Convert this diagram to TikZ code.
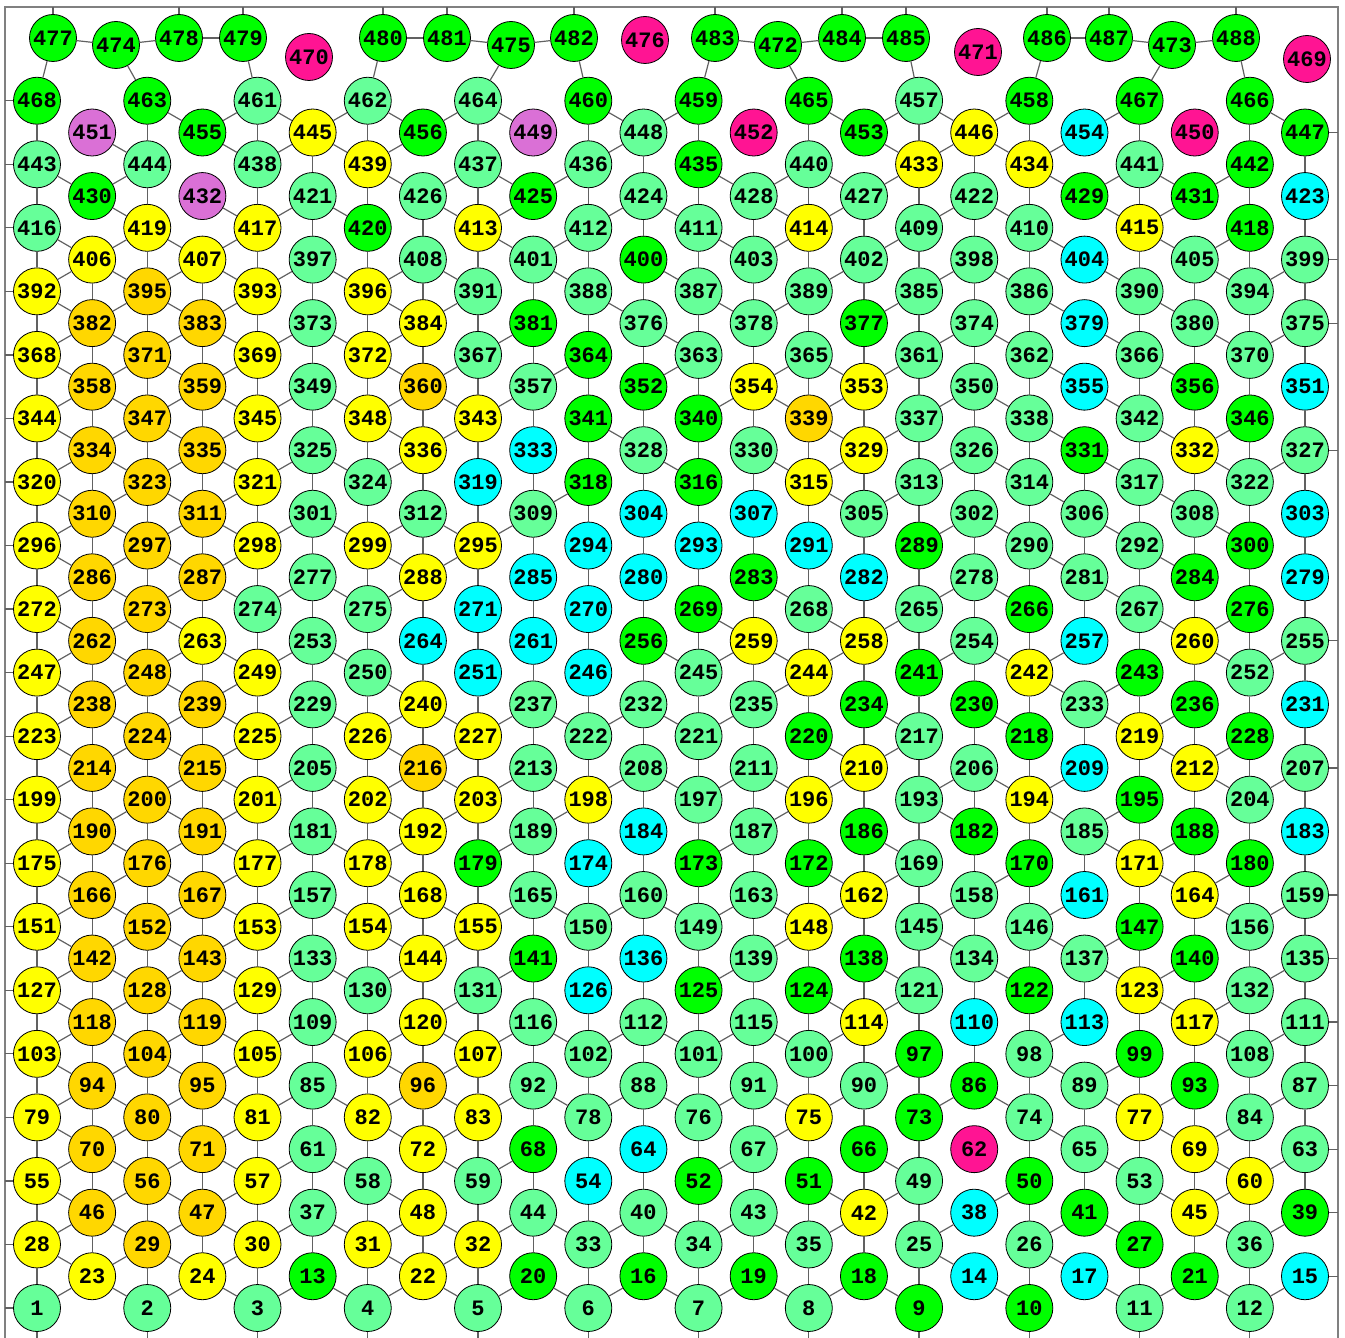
\documentclass[tikz,border=0pt]{standalone}
\usepackage{fontspec}
\setmonofont{Liberation Mono}
\usepackage{xcolor}
\definecolor{deg0}{HTML}{FF1493}
\definecolor{deg1}{HTML}{DA70D6}
\definecolor{deg2}{HTML}{00FFFF}
\definecolor{deg3}{HTML}{00FF00}
\definecolor{deg4}{HTML}{66FF99}
\definecolor{deg5}{HTML}{FFFF00}
\definecolor{deg6}{HTML}{FFD700}

\begin{document}
\begin{tikzpicture}[
      x=0.5pt, y=-0.5pt,
      site/.style={circle, draw=black, line width=0.4pt, minimum size=23.5pt, inner sep=0pt,
                   font=\ttfamily\bfseries\fontsize{11}{11}\selectfont},
      d0/.style={site, fill=deg0},
      d1/.style={site, fill=deg1},
      d2/.style={site, fill=deg2},
      d3/.style={site, fill=deg3},
      d4/.style={site, fill=deg4},
      d5/.style={site, fill=deg5},
      d6/.style={site, fill=deg6},
      link/.style={draw=black!62, line width=0.6pt},
      rim/.style={draw=black!50, line width=0.75pt}
    ]
    \useasboundingbox (0,0) rectangle (1345,1338);

    % frame of the periodic cell (open at the bottom)
    \draw[rim] (5,1338) -- (5,7) -- (1338,7) -- (1338,1338);
    \coordinate (frameN) at (0,7);
    \coordinate (frameS) at (0,1338);
    \coordinate (frameW) at (5,0);
    \coordinate (frameE) at (1338,0);

    % lattice sites, one column at a time, bottom to top
    \foreach \n/\s [count=\i from 0] in {1/d4,28/d5,55/d5,79/d5,103/d5,127/d5,151/d5,175/d5,199/d5,223/d5,247/d5,272/d5,296/d5,320/d5,344/d5,368/d5,392/d5,416/d4,443/d4,468/d3}
      \node[\s] (n\n) at (37,{1308-63.54*\i}) {\n};
    \foreach \n/\s [count=\i from 0] in {23/d5,46/d6,70/d6,94/d6,118/d6,142/d6,166/d6,190/d6,214/d6,238/d6,262/d6,286/d6,310/d6,334/d6,358/d6,382/d6,406/d5,430/d3,451/d1}
      \node[\s] (n\n) at (92.13,{1276.23-63.54*\i}) {\n};
    \foreach \n/\s [count=\i from 0] in {2/d4,29/d6,56/d6,80/d6,104/d6,128/d6,152/d6,176/d6,200/d6,224/d6,248/d6,273/d6,297/d6,323/d6,347/d6,371/d6,395/d6,419/d5,444/d4,463/d3}
      \node[\s] (n\n) at (147.26,{1308-63.54*\i}) {\n};
    \foreach \n/\s [count=\i from 0] in {24/d5,47/d6,71/d6,95/d6,119/d6,143/d6,167/d6,191/d6,215/d6,239/d6,263/d5,287/d6,311/d6,335/d6,359/d6,383/d6,407/d5,432/d1,455/d3}
      \node[\s] (n\n) at (202.39,{1276.23-63.54*\i}) {\n};
    \foreach \n/\s [count=\i from 0] in {3/d4,30/d5,57/d5,81/d5,105/d5,129/d5,153/d5,177/d5,201/d5,225/d5,249/d5,274/d4,298/d5,321/d5,345/d5,369/d5,393/d5,417/d5,438/d4,461/d4}
      \node[\s] (n\n) at (257.52,{1308-63.54*\i}) {\n};
    \foreach \n/\s [count=\i from 0] in {13/d3,37/d4,61/d4,85/d4,109/d4,133/d4,157/d4,181/d4,205/d4,229/d4,253/d4,277/d4,301/d4,325/d4,349/d4,373/d4,397/d4,421/d4,445/d5}
      \node[\s] (n\n) at (312.65,{1276.23-63.54*\i}) {\n};
    \foreach \n/\s [count=\i from 0] in {4/d4,31/d5,58/d4,82/d5,106/d5,130/d4,154/d5,178/d5,202/d5,226/d5,250/d4,275/d4,299/d5,324/d4,348/d5,372/d5,396/d5,420/d3,439/d5,462/d4}
      \node[\s] (n\n) at (367.78,{1308-63.54*\i}) {\n};
    \foreach \n/\s [count=\i from 0] in {22/d5,48/d5,72/d5,96/d6,120/d5,144/d5,168/d5,192/d5,216/d6,240/d5,264/d2,288/d5,312/d4,336/d5,360/d6,384/d5,408/d4,426/d4,456/d3}
      \node[\s] (n\n) at (422.91,{1276.23-63.54*\i}) {\n};
    \foreach \n/\s [count=\i from 0] in {5/d4,32/d5,59/d4,83/d5,107/d5,131/d4,155/d5,179/d3,203/d5,227/d5,251/d2,271/d2,295/d5,319/d2,343/d5,367/d4,391/d4,413/d5,437/d4,464/d4}
      \node[\s] (n\n) at (478.04,{1308-63.54*\i}) {\n};
    \foreach \n/\s [count=\i from 0] in {20/d3,44/d4,68/d3,92/d4,116/d4,141/d3,165/d4,189/d4,213/d4,237/d4,261/d2,285/d2,309/d4,333/d2,357/d4,381/d3,401/d4,425/d3,449/d1}
      \node[\s] (n\n) at (533.17,{1276.23-63.54*\i}) {\n};
    \foreach \n/\s [count=\i from 0] in {6/d4,33/d4,54/d2,78/d4,102/d4,126/d2,150/d4,174/d2,198/d5,222/d4,246/d2,270/d2,294/d2,318/d3,341/d3,364/d3,388/d4,412/d4,436/d4,460/d3}
      \node[\s] (n\n) at (588.3,{1308-63.54*\i}) {\n};
    \foreach \n/\s [count=\i from 0] in {16/d3,40/d4,64/d2,88/d4,112/d4,136/d2,160/d4,184/d2,208/d4,232/d4,256/d3,280/d2,304/d2,328/d4,352/d3,376/d4,400/d3,424/d4,448/d4}
      \node[\s] (n\n) at (643.43,{1276.23-63.54*\i}) {\n};
    \foreach \n/\s [count=\i from 0] in {7/d4,34/d4,52/d3,76/d4,101/d4,125/d3,149/d4,173/d3,197/d4,221/d4,245/d4,269/d3,293/d2,316/d3,340/d3,363/d4,387/d4,411/d4,435/d3,459/d3}
      \node[\s] (n\n) at (698.56,{1308-63.54*\i}) {\n};
    \foreach \n/\s [count=\i from 0] in {19/d3,43/d4,67/d4,91/d4,115/d4,139/d4,163/d4,187/d4,211/d4,235/d4,259/d5,283/d3,307/d2,330/d4,354/d5,378/d4,403/d4,428/d4,452/d0}
      \node[\s] (n\n) at (753.69,{1276.23-63.54*\i}) {\n};
    \foreach \n/\s [count=\i from 0] in {8/d4,35/d4,51/d3,75/d5,100/d4,124/d3,148/d5,172/d3,196/d5,220/d3,244/d5,268/d4,291/d2,315/d5,339/d6,365/d4,389/d4,414/d5,440/d4,465/d3}
      \node[\s] (n\n) at (808.82,{1308-63.54*\i}) {\n};
    \foreach \n/\s [count=\i from 0] in {18/d3,42/d5,66/d3,90/d4,114/d5,138/d3,162/d5,186/d3,210/d5,234/d3,258/d5,282/d2,305/d4,329/d5,353/d5,377/d3,402/d4,427/d4,453/d3}
      \node[\s] (n\n) at (863.95,{1276.23-63.54*\i}) {\n};
    \foreach \n/\s [count=\i from 0] in {9/d3,25/d4,49/d4,73/d3,97/d3,121/d4,145/d4,169/d4,193/d4,217/d4,241/d3,265/d4,289/d3,313/d4,337/d4,361/d4,385/d4,409/d4,433/d5,457/d4}
      \node[\s] (n\n) at (919.08,{1308-63.54*\i}) {\n};
    \foreach \n/\s [count=\i from 0] in {14/d2,38/d2,62/d0,86/d3,110/d2,134/d4,158/d4,182/d3,206/d4,230/d3,254/d4,278/d4,302/d4,326/d4,350/d4,374/d4,398/d4,422/d4,446/d5}
      \node[\s] (n\n) at (974.21,{1276.23-63.54*\i}) {\n};
    \foreach \n/\s [count=\i from 0] in {10/d3,26/d4,50/d3,74/d4,98/d4,122/d3,146/d4,170/d3,194/d5,218/d3,242/d5,266/d3,290/d4,314/d4,338/d4,362/d4,386/d4,410/d4,434/d5,458/d3}
      \node[\s] (n\n) at (1029.34,{1308-63.54*\i}) {\n};
    \foreach \n/\s [count=\i from 0] in {17/d2,41/d3,65/d4,89/d4,113/d2,137/d4,161/d2,185/d4,209/d2,233/d4,257/d2,281/d4,306/d4,331/d3,355/d2,379/d2,404/d2,429/d3,454/d2}
      \node[\s] (n\n) at (1084.47,{1276.23-63.54*\i}) {\n};
    \foreach \n/\s [count=\i from 0] in {11/d4,27/d3,53/d4,77/d5,99/d3,123/d5,147/d3,171/d5,195/d3,219/d5,243/d3,267/d4,292/d4,317/d4,342/d4,366/d4,390/d4,415/d5,441/d4,467/d3}
      \node[\s] (n\n) at (1139.6,{1308-63.54*\i}) {\n};
    \foreach \n/\s [count=\i from 0] in {21/d3,45/d5,69/d5,93/d3,117/d5,140/d3,164/d5,188/d3,212/d5,236/d3,260/d5,284/d3,308/d4,332/d5,356/d3,380/d4,405/d4,431/d3,450/d0}
      \node[\s] (n\n) at (1194.73,{1276.23-63.54*\i}) {\n};
    \foreach \n/\s [count=\i from 0] in {12/d4,36/d4,60/d5,84/d4,108/d4,132/d4,156/d4,180/d3,204/d4,228/d3,252/d4,276/d3,300/d3,322/d4,346/d3,370/d4,394/d4,418/d3,442/d3,466/d3}
      \node[\s] (n\n) at (1249.86,{1308-63.54*\i}) {\n};
    \foreach \n/\s [count=\i from 0] in {15/d2,39/d3,63/d4,87/d4,111/d4,135/d4,159/d4,183/d2,207/d4,231/d2,255/d4,279/d2,303/d2,327/d4,351/d2,375/d4,399/d4,423/d2,447/d3}
      \node[\s] (n\n) at (1304.99,{1276.23-63.54*\i}) {\n};

    % top row, off the lattice
    \foreach \n/\s/\x/\y in {477/d3/53/38,474/d3/116/45,478/d3/179/38,479/d3/243/38,470/d0/309/57,
        480/d3/383/38,481/d3/447/38,475/d3/511/45,482/d3/574/38,476/d0/645/40,
        483/d3/715/38,472/d3/778/45,484/d3/842/38,485/d3/906/38,471/d0/978/52,
        486/d3/1047/38,487/d3/1109/38,473/d3/1172/45,488/d3/1236/38,469/d0/1307/59}
      \node[\s] (n\n) at (\x,\y) {\n};

    % bonds along each column
    \foreach \a/\b in {1/28,28/55,55/79,79/103,103/127,127/151,151/175,175/199,199/223,223/247,247/272,272/296,296/320,320/344,344/368,368/392,392/416,416/443,443/468,
        23/46,46/70,70/94,94/118,118/142,142/166,166/190,190/214,214/238,238/262,262/286,286/310,310/334,334/358,358/382,382/406,
        2/29,29/56,56/80,80/104,104/128,128/152,152/176,176/200,200/224,224/248,248/273,273/297,297/323,323/347,347/371,371/395,395/419,419/444,444/463,
        24/47,47/71,71/95,95/119,119/143,143/167,167/191,191/215,215/239,239/263,263/287,287/311,311/335,335/359,359/383,383/407,
        3/30,30/57,57/81,81/105,105/129,129/153,153/177,177/201,201/225,225/249,249/274,274/298,298/321,321/345,345/369,369/393,393/417,417/438,438/461,
        13/37,37/61,61/85,85/109,109/133,133/157,157/181,181/205,205/229,229/253,253/277,277/301,301/325,325/349,349/373,373/397,397/421,421/445,
        4/31,31/58,58/82,82/106,106/130,130/154,154/178,178/202,202/226,226/250,250/275,275/299,299/324,324/348,348/372,372/396,396/420,420/439,439/462,
        22/48,48/72,72/96,96/120,120/144,144/168,168/192,192/216,216/240,240/264,264/288,288/312,312/336,336/360,360/384,384/408,408/426,
        5/32,32/59,59/83,83/107,107/131,131/155,155/179,179/203,203/227,227/251,251/271,271/295,295/319,319/343,343/367,367/391,391/413,413/437,437/464,
        20/44,44/68,68/92,92/116,116/141,141/165,165/189,189/213,213/237,237/261,261/285,285/309,309/333,333/357,357/381,381/401,
        6/33,33/54,54/78,78/102,102/126,126/150,150/174,174/198,198/222,222/246,246/270,270/294,294/318,318/341,341/364,364/388,388/412,412/436,436/460,
        16/40,40/64,64/88,88/112,112/136,136/160,160/184,184/208,208/232,232/256,256/280,280/304,304/328,328/352,352/376,376/400,400/424,424/448,
        7/34,34/52,52/76,76/101,101/125,125/149,149/173,173/197,197/221,221/245,245/269,269/293,293/316,316/340,340/363,363/387,387/411,411/435,435/459,
        19/43,43/67,67/91,91/115,115/139,139/163,163/187,187/211,211/235,235/259,259/283,283/307,307/330,330/354,354/378,378/403,403/428,
        8/35,35/51,51/75,75/100,100/124,124/148,148/172,172/196,196/220,220/244,244/268,268/291,291/315,315/339,339/365,365/389,389/414,414/440,440/465,
        18/42,42/66,66/90,90/114,114/138,138/162,162/186,186/210,210/234,234/258,258/282,282/305,305/329,329/353,353/377,377/402,402/427,
        9/25,25/49,49/73,73/97,97/121,121/145,145/169,169/193,193/217,217/241,241/265,265/289,289/313,313/337,337/361,361/385,385/409,409/433,433/457,
        86/110,110/134,134/158,158/182,182/206,206/230,230/254,254/278,278/302,302/326,326/350,350/374,374/398,398/422,422/446,
        10/26,26/50,50/74,74/98,98/122,122/146,146/170,170/194,194/218,218/242,242/266,266/290,290/314,314/338,338/362,362/386,386/410,410/434,434/458,
        41/65,65/89,113/137,161/185,209/233,257/281,281/306,306/331,
        11/27,27/53,53/77,77/99,99/123,123/147,147/171,171/195,195/219,219/243,243/267,267/292,292/317,317/342,342/366,366/390,390/415,415/441,441/467,
        21/45,45/69,69/93,93/117,117/140,140/164,164/188,188/212,212/236,236/260,260/284,284/308,308/332,332/356,356/380,380/405,
        12/36,36/60,60/84,84/108,108/132,132/156,156/180,180/204,204/228,228/252,252/276,276/300,300/322,322/346,346/370,370/394,394/418,418/442,442/466,
        39/63,63/87,87/111,111/135,135/159,159/183,183/207,207/231,231/255,255/279,279/303,303/327,327/351,351/375,375/399,399/423,423/447}
      \draw[link] (n\a) -- (n\b);

    % bonds between neighbouring columns
    \foreach \a/\b in {1/23,23/28,28/46,46/55,55/70,70/79,79/94,94/103,103/118,118/127,127/142,142/151,151/166,166/175,175/190,190/199,199/214,214/223,223/238,238/247,247/262,262/272,272/286,286/296,296/310,310/320,320/334,334/344,344/358,358/368,368/382,382/392,392/406,406/416,430/443,
        2/23,23/29,29/46,46/56,56/70,70/80,80/94,94/104,104/118,118/128,128/142,142/152,152/166,166/176,176/190,190/200,200/214,214/224,224/238,238/248,248/262,262/273,273/286,286/297,297/310,310/323,323/334,334/347,347/358,358/371,371/382,382/395,395/406,406/419,419/430,430/444,444/451,
        2/24,24/29,29/47,47/56,56/71,71/80,80/95,95/104,104/119,119/128,128/143,143/152,152/167,167/176,176/191,191/200,200/215,215/224,224/239,239/248,248/263,263/273,273/287,287/297,297/311,311/323,323/335,335/347,347/359,359/371,371/383,383/395,395/407,407/419,455/463,
        3/24,24/30,30/47,47/57,57/71,71/81,81/95,95/105,105/119,119/129,129/143,143/153,153/167,167/177,177/191,191/201,201/215,215/225,225/239,239/249,249/263,274/287,287/298,298/311,311/321,321/335,335/345,345/359,359/369,369/383,383/393,393/407,407/417,417/432,438/455,455/461,
        3/13,30/37,57/61,81/85,105/109,129/133,153/157,177/181,201/205,225/229,249/253,274/277,298/301,321/325,345/349,369/373,393/397,417/421,438/445,445/461,
        4/13,31/37,58/61,82/85,106/109,130/133,154/157,178/181,202/205,226/229,250/253,275/277,299/301,324/325,348/349,372/373,396/397,420/421,439/445,445/462,
        4/22,22/31,31/48,48/58,72/82,82/96,96/106,106/120,130/144,144/154,154/168,168/178,178/192,192/202,202/216,216/226,226/240,240/250,275/288,288/299,299/312,324/336,336/348,348/360,360/372,372/384,384/396,396/408,426/439,439/456,456/462,
        5/22,22/32,32/48,59/72,72/83,83/96,96/107,107/120,120/131,144/155,155/168,192/203,203/216,216/227,227/240,288/295,295/312,336/343,343/360,360/367,384/391,391/408,413/426,426/437,456/464,
        5/20,32/44,59/68,83/92,107/116,131/141,155/165,179/189,203/213,227/237,295/309,343/357,367/381,401/413,413/425,425/437,449/464,
        6/20,33/44,78/92,102/116,150/165,189/198,198/213,222/237,309/318,357/364,388/401,401/412,425/436,
        6/16,33/40,78/88,102/112,150/160,198/208,222/232,328/341,376/388,412/424,436/448,448/460,
        7/16,34/40,76/88,101/112,149/160,197/208,221/232,245/256,316/328,352/363,363/376,387/400,411/424,448/459,
        7/19,34/43,52/67,76/91,101/115,125/139,149/163,173/187,197/211,221/235,245/259,259/269,340/354,378/387,403/411,428/435,
        8/19,35/43,67/75,75/91,100/115,139/148,148/163,187/196,196/211,235/244,244/259,268/283,315/330,339/354,354/365,378/389,403/414,414/428,428/440,
        8/18,35/42,42/51,75/90,100/114,114/124,148/162,162/172,196/210,210/220,244/258,258/268,305/315,315/329,329/339,339/353,353/365,389/402,414/427,427/440,453/465,
        9/18,42/49,49/66,90/97,114/121,121/138,162/169,169/186,210/217,217/234,258/265,305/313,329/337,353/361,377/385,402/409,427/433,433/453,453/457,
        14/25,25/38,73/86,134/145,145/158,182/193,193/206,241/254,265/278,289/302,313/326,337/350,361/374,385/398,409/422,433/446,446/457,
        10/14,38/50,74/86,122/134,158/170,194/206,218/230,242/254,266/278,290/302,314/326,338/350,362/374,386/398,410/422,434/446,446/458,
        17/26,26/41,65/74,89/98,98/113,137/146,146/161,185/194,194/209,233/242,242/257,281/290,306/314,331/338,355/362,379/386,404/410,429/434,434/454,
        11/17,27/41,53/65,77/89,89/99,123/137,137/147,171/185,185/195,219/233,233/243,267/281,292/306,317/331,342/355,366/379,390/404,415/429,429/441,454/467,
        11/21,45/53,69/77,77/93,117/123,123/140,164/171,171/188,212/219,219/236,260/267,284/292,308/317,332/342,356/366,380/390,405/415,415/431,431/441,
        12/21,36/45,45/60,60/69,69/84,108/117,117/132,156/164,164/180,204/212,212/228,252/260,260/276,300/308,322/332,332/346,370/380,394/405,405/418,431/442,
        12/15,36/39,60/63,84/87,108/111,132/135,156/159,204/207,252/255,322/327,370/375,394/399,447/466}
      \draw[link] (n\a) -- (n\b);

    % top row bonds
    \foreach \a/\b in {468/477,463/474,461/479,462/480,464/475,460/482,459/483,465/472,457/485,458/486,467/473,466/488,
        477/474,474/478,478/479,480/481,481/475,475/482,483/472,472/484,484/485,486/487,487/473,473/488}
      \draw[link] (n\a) -- (n\b);

    % bonds leaving the cell (periodic images)
    \foreach \n in {477,478,479,480,481,482,483,484,485,486,487,488}
      \draw[link] (n\n) -- (n\n |- frameN);
    \foreach \n in {1,2,3,4,5,6,7,8,9,10,11,12}
      \draw[link] (n\n) -- (n\n |- frameS);
    \foreach \n in {1,28,55,79,103,127,151,175,199,223,247,272,296,320,344,368,392,416,443,468}
      \draw[link] (n\n) -- (n\n -| frameW);
    \foreach \n in {15,39,63,87,111,135,159,207,255,327,375,399,447}
      \draw[link] (n\n) -- (n\n -| frameE);
  \end{tikzpicture}
\end{document}
